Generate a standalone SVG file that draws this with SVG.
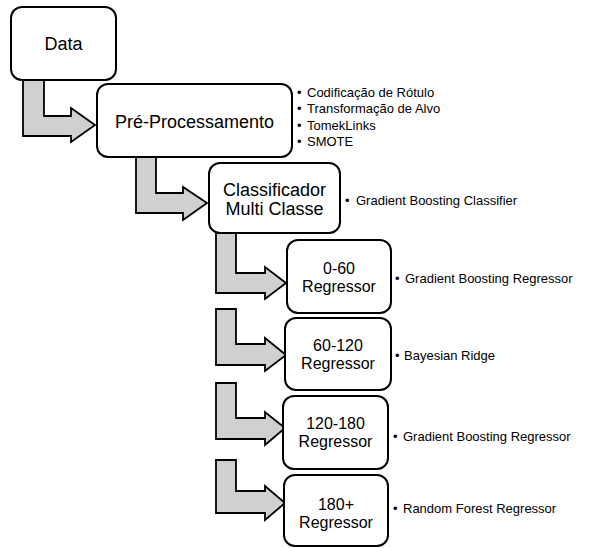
<svg xmlns="http://www.w3.org/2000/svg" width="596" height="548" viewBox="0 0 596 548">
<style>
.box{fill:#fff;stroke:#000;stroke-width:2}
.arr{fill:#d0d0d0;stroke:#000;stroke-width:1.8;stroke-linejoin:miter}
.nt{font-family:"Liberation Sans",Arial,sans-serif;font-size:18px;text-anchor:middle;fill:#000}
.rt{font-family:"Liberation Sans",Arial,sans-serif;font-size:16px;text-anchor:middle;fill:#000}
.lt{font-family:"Liberation Sans",Arial,sans-serif;font-size:13px;fill:#000}
</style>
<rect width="596" height="548" fill="#fff"/>
<g id="connectors">
<polygon class="arr" points="23,80 44,80 44,116 71,116 71,108 95,125 71,142 71,136 23,136"/>
<polygon class="arr" points="136,157 156,157 156,193 183,193 183,187 207,203 183,220 183,213 136,213"/>
<polygon class="arr" points="216,233 236,233 236,273 265,273 265,267 286,283 265,299 265,293 216,293"/>
<polygon class="arr" points="216,309 236,309 236,344 265,344 265,338 286,355 265,371 265,365 216,365"/>
<polygon class="arr" points="216,383 236,383 236,418 265,418 265,412 285,428 265,445 265,439 216,439"/>
<polygon class="arr" points="216,460 236,460 236,491 265,491 265,486 285,503 265,520 265,513 216,513"/>
</g>
<g id="data">
<rect class="box" x="11" y="7" width="105" height="73" rx="11"/>
<text class="nt" x="63.5" y="50">Data</text>
</g>
<g id="preprocessamento">
<rect class="box" x="97" y="84" width="195" height="73" rx="11"/>
<text class="nt" x="194.5" y="128">Pré-Processamento</text>
<g class="lt">
<text x="297" y="97">•</text><text x="307" y="97">Codificação de Rótulo</text>
<text x="297" y="113">•</text><text x="307" y="113">Transformação de Alvo</text>
<text x="297" y="130">•</text><text x="307" y="130">TomekLinks</text>
<text x="297" y="146">•</text><text x="307" y="146">SMOTE</text>
</g>
</g>
<g id="classificador">
<rect class="box" x="209" y="163" width="131" height="70" rx="11"/>
<text class="nt" x="274.5" y="196">Classificador</text>
<text class="nt" x="274.5" y="215">Multi Classe</text>
<g class="lt"><text x="345" y="205">•</text><text x="356" y="205">Gradient Boosting Classifier</text></g>
</g>
<g id="reg-0-60">
<rect class="box" x="287" y="240" width="104" height="73" rx="11"/>
<text class="rt" x="339" y="273.5">0-60</text>
<text class="rt" x="339" y="291.5">Regressor</text>
<g class="lt"><text x="395" y="283">•</text><text x="405" y="283">Gradient Boosting Regressor</text></g>
</g>
<g id="reg-60-120">
<rect class="box" x="285" y="318" width="106" height="72" rx="11"/>
<text class="rt" x="338" y="350.5">60-120</text>
<text class="rt" x="338" y="368.5">Regressor</text>
<g class="lt"><text x="395" y="360">•</text><text x="404" y="360">Bayesian Ridge</text></g>
</g>
<g id="reg-120-180">
<rect class="box" x="283" y="396" width="105" height="73" rx="11"/>
<text class="rt" x="335.5" y="429">120-180</text>
<text class="rt" x="335.5" y="447">Regressor</text>
<g class="lt"><text x="393" y="441">•</text><text x="403" y="441">Gradient Boosting Regressor</text></g>
</g>
<g id="reg-180plus">
<rect class="box" x="284" y="475" width="104" height="71" rx="11"/>
<text class="rt" x="336" y="509.5">180+</text>
<text class="rt" x="336" y="527.5">Regressor</text>
<g class="lt"><text x="393" y="513">•</text><text x="403" y="513">Random Forest Regressor</text></g>
</g>
</svg>
